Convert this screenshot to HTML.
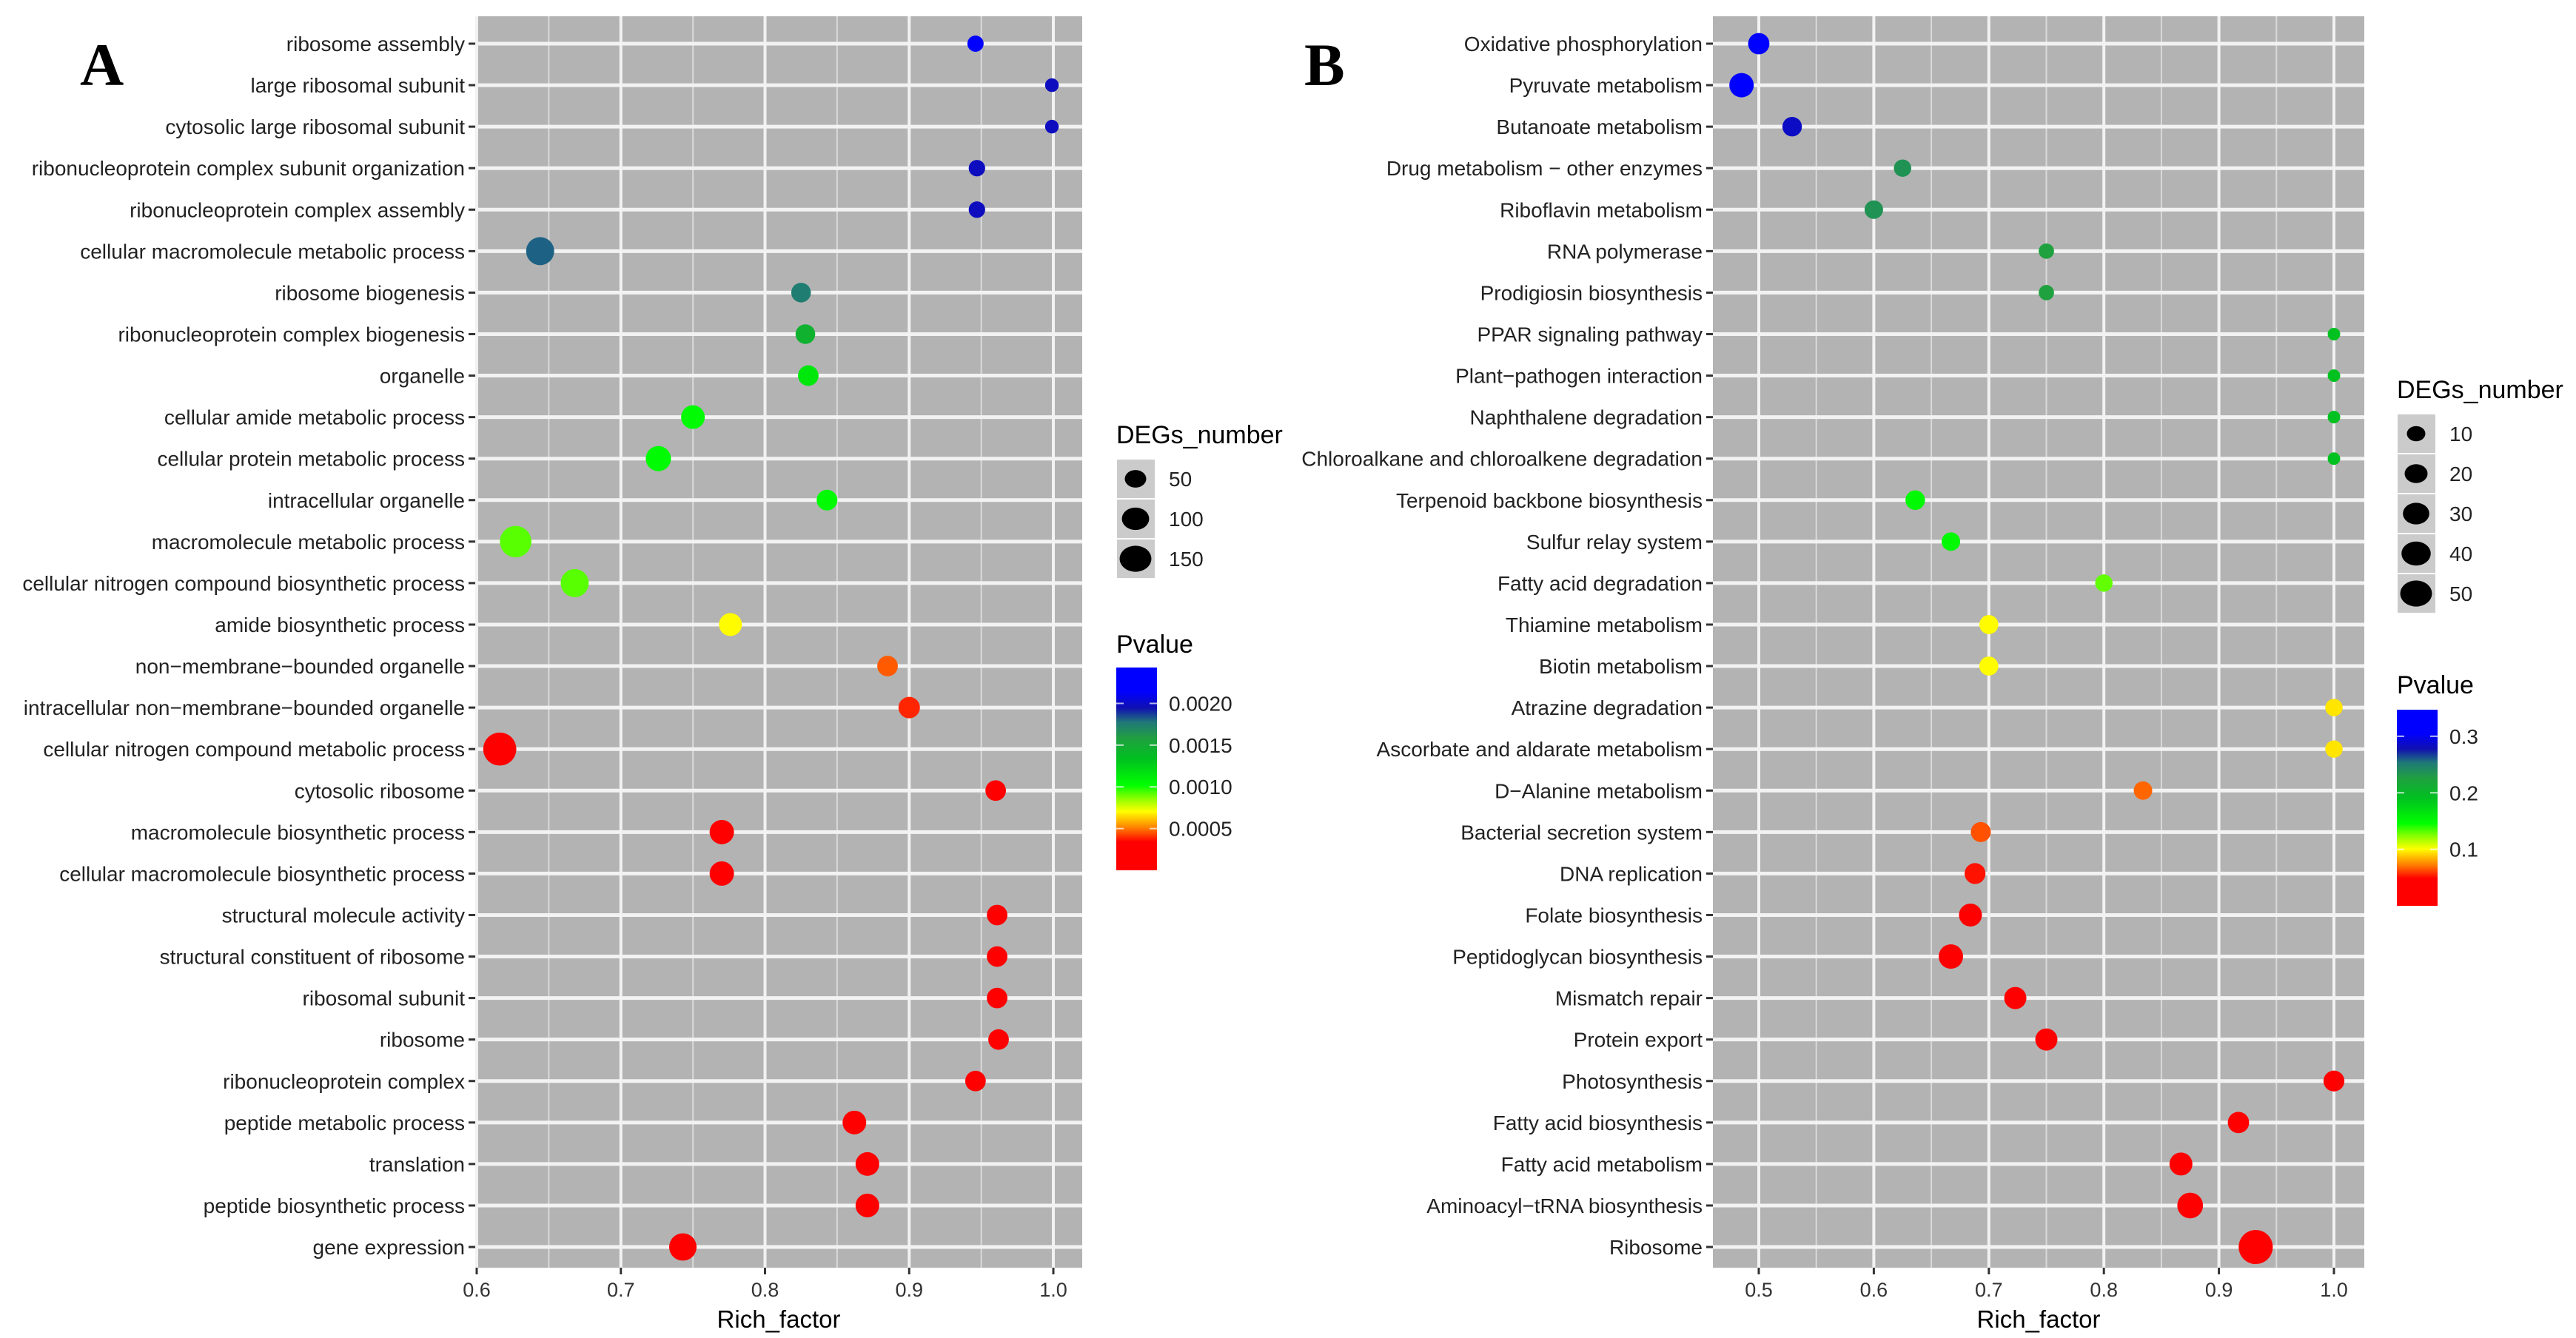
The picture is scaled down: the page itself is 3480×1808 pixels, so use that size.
<!DOCTYPE html>
<html><head><meta charset="utf-8"><title>Enrichment bubble charts</title>
<style>html,body{margin:0;padding:0;background:#fff;}svg{display:block;font-family:"Liberation Sans",Arial,sans-serif;}</style></head>
<body>
<svg id="fig" width="3480" height="1808" viewBox="0 0 3480 1808" xmlns="http://www.w3.org/2000/svg">
<defs>
<linearGradient id="pgrad" x1="0" y1="1" x2="0" y2="0">
<stop offset="0" stop-color="#ff0000"/><stop offset="0.14" stop-color="#ff0000"/><stop offset="0.21" stop-color="#ff8000"/><stop offset="0.29" stop-color="#ffff00"/><stop offset="0.36" stop-color="#80ff00"/><stop offset="0.42" stop-color="#00ff00"/><stop offset="0.55" stop-color="#00c020"/><stop offset="0.65" stop-color="#20a040"/><stop offset="0.73" stop-color="#207878"/><stop offset="0.80" stop-color="#1010b0"/><stop offset="0.88" stop-color="#0000ff"/><stop offset="1" stop-color="#0000ff"/>
</linearGradient>
</defs>
<text x="108" y="115" font-family="Liberation Serif, serif" font-weight="bold" font-size="82">A</text>
<text x="1762" y="115" font-family="Liberation Serif, serif" font-weight="bold" font-size="82">B</text>
</svg>
<script>
// ---------- Panel A data ----------
const catA = ["ribosome assembly","large ribosomal subunit","cytosolic large ribosomal subunit","ribonucleoprotein complex subunit organization","ribonucleoprotein complex assembly","cellular macromolecule metabolic process","ribosome biogenesis","ribonucleoprotein complex biogenesis","organelle","cellular amide metabolic process","cellular protein metabolic process","intracellular organelle","macromolecule metabolic process","cellular nitrogen compound biosynthetic process","amide biosynthetic process","non\u2212membrane\u2212bounded organelle","intracellular non\u2212membrane\u2212bounded organelle","cellular nitrogen compound metabolic process","cytosolic ribosome","macromolecule biosynthetic process","cellular macromolecule biosynthetic process","structural molecule activity","structural constituent of ribosome","ribosomal subunit","ribosome","ribonucleoprotein complex","peptide metabolic process","translation","peptide biosynthetic process","gene expression"];
const richA = [0.946,0.999,0.999,0.947,0.947,0.644,0.825,0.828,0.830,0.750,0.726,0.843,0.627,0.668,0.776,0.885,0.900,0.616,0.960,0.770,0.770,0.961,0.961,0.961,0.962,0.946,0.862,0.871,0.871,0.743];
const degA = [20,10,10,21,21,108,38,38,44,67,80,45,146,108,61,44,50,166,44,73,73,44,44,44,44,44,67,67,67,101];
const pA = [0.00223,0.00198,0.00198,0.00198,0.00198,0.00181,0.00175,0.00145,0.00114,0.00104,0.00104,0.00104,0.00092,0.00092,0.0007,0.00046,0.00039,0.0001,0.0001,0.0001,0.0001,0.0001,0.0001,0.0001,0.0001,0.0001,0.0001,0.0001,0.0001,0.0001];
const xTicksA = [0.6,0.7,0.8,0.9,1.0];
const xTickLabelsA = ["0.6","0.7","0.8","0.9","1.0"];
const sizeLegA = [50,100,150];
const pTicksA = [0.0005,0.0010,0.0015,0.0020];
const pTickLabelsA = ["0.0005","0.0010","0.0015","0.0020"];
// ---------- Panel B data ----------
const catB = ["Oxidative phosphorylation","Pyruvate metabolism","Butanoate metabolism","Drug metabolism \u2212 other enzymes","Riboflavin metabolism","RNA polymerase","Prodigiosin biosynthesis","PPAR signaling pathway","Plant\u2212pathogen interaction","Naphthalene degradation","Chloroalkane and chloroalkene degradation","Terpenoid backbone biosynthesis","Sulfur relay system","Fatty acid degradation","Thiamine metabolism","Biotin metabolism","Atrazine degradation","Ascorbate and aldarate metabolism","D\u2212Alanine metabolism","Bacterial secretion system","DNA replication","Folate biosynthesis","Peptidoglycan biosynthesis","Mismatch repair","Protein export","Photosynthesis","Fatty acid biosynthesis","Fatty acid metabolism","Aminoacyl\u2212tRNA biosynthesis","Ribosome"];
const richB = [0.500,0.485,0.529,0.625,0.600,0.750,0.750,1.0,1.0,1.0,1.0,0.636,0.667,0.800,0.700,0.700,1.0,1.0,0.834,0.693,0.688,0.684,0.667,0.723,0.750,1.0,0.917,0.867,0.875,0.932];
const degB = [16,24,12,8,10,5,5,2,2,2,2,12,10,8,11,11,8,8,10,13,15,20,24,18,18,15,16,20,28,60];
const pB = [0.34,0.34,0.285,0.235,0.235,0.225,0.225,0.19,0.19,0.19,0.19,0.15,0.15,0.13,0.10,0.10,0.095,0.095,0.068,0.064,0.052,0.02,0.02,0.02,0.02,0.02,0.02,0.02,0.02,0.02];
const xTicksB = [0.5,0.6,0.7,0.8,0.9,1.0];
const xTickLabelsB = ["0.5","0.6","0.7","0.8","0.9","1.0"];
const sizeLegB = [10,20,30,40,50];
const pTicksB = [0.1,0.2,0.3];
const pTickLabelsB = ["0.1","0.2","0.3"];

const NS = "http://www.w3.org/2000/svg";
const svg = document.getElementById('fig');
const stops = [[0,[255,0,0]],[0.14,[255,0,0]],[0.21,[255,128,0]],[0.29,[255,255,0]],[0.36,[128,255,0]],[0.42,[0,255,0]],[0.55,[0,192,32]],[0.65,[32,160,64]],[0.73,[32,120,120]],[0.80,[16,16,176]],[0.88,[0,0,255]],[1,[0,0,255]]];
function cmap(t){
  t=Math.max(0,Math.min(1,t));
  for(let i=1;i<stops.length;i++){
    if(t<=stops[i][0]){const a=stops[i-1],b=stops[i];const f=(t-a[0])/((b[0]-a[0])||1);
      const c=a[1].map((v,k)=>Math.round(v+(b[1][k]-v)*f));return `rgb(${c[0]},${c[1]},${c[2]})`;}
  }
  return 'rgb(0,0,255)';
}
function mk(tag,attrs,parent){const e=document.createElementNS(NS,tag);for(const k in attrs)e.setAttribute(k,attrs[k]);(parent||svg).appendChild(e);return e;}

function drawPanel(o){
  const g=mk('g',{});
  
  
  const top=22,bottom=1713,row0=59,step=56.07;
  const xs=v=>o.x0+(v-o.v0)*o.pxPer;
  const ys=i=>row0+i*step;
  const bg=mk('rect',{x:o.left,y:top,width:o.right-o.left,height:bottom-top,fill:'#b3b3b3'},g);
  
  
  for(let i=0;i<=o.ticks.length;i++){
    const m=(i<o.ticks.length?o.ticks[i]-0.05:o.ticks[o.ticks.length-1]+0.05), xm=xs(m);
    if(xm>o.left&&xm<o.right){const l=mk('line',{x1:xm,x2:xm,y1:top,y2:bottom,stroke:'#d9d9d9','stroke-width':2},g);
      
      }
  }
  o.ticks.forEach((v,i)=>{
    const x=xs(v);
    const l=mk('line',{x1:x,x2:x,y1:top,y2:bottom,stroke:'#f2f2f2','stroke-width':4},g);
    
    
    const tk=mk('line',{x1:x,x2:x,y1:bottom,y2:bottom+9,stroke:'#333','stroke-width':3},g);
    
    
    const t=mk('text',{x:x,y:1752,'text-anchor':'middle','font-size':27,fill:'#333'},g);
    t.textContent=o.tickLabels[i];
    
    
  });
  o.cats.forEach((c,i)=>{
    const y=ys(i);
    const l=mk('line',{x1:o.left,x2:o.right,y1:y,y2:y,stroke:'#f2f2f2','stroke-width':5},g);
    
    
    const tk=mk('line',{x1:o.left-9,x2:o.left,y1:y,y2:y,stroke:'#333','stroke-width':3},g);
    
    
    const t=mk('text',{x:o.left-14,y:y+10,'text-anchor':'end','font-size':28,fill:'#222'},g);
    t.textContent=c;
    
    
  });
  o.cats.forEach((c,i)=>{
    const d=o.sz(o.deg[i]);
    const p=mk('circle',{cx:xs(o.rich[i]),cy:ys(i),r:d/2,fill:cmap(o.p[i]/o.pmax)},g);
    
    
  });
  const xt=mk('text',{x:(o.left+o.right)/2,y:1794,'text-anchor':'middle','font-size':33,fill:'#000'},g);
  xt.textContent='Rich_factor';
  
  
  const lg=mk('g',{},g);
  
  
  const st=mk('text',{x:o.legX,y:o.sizeTitleY+12,'font-size':34,fill:'#000'},lg);
  st.textContent='DEGs_number';
  
  
  o.sizeLeg.forEach((v,i)=>{
    const y=o.keyTop+i*o.keyH;
    const kb=mk('rect',{x:o.legX+1,y:y+1,width:51,height:o.keyH-2,fill:'#cbcbcb'},lg);
    
    
    const d=o.sz(v);
    const kc=mk('ellipse',{cx:o.legX+26,cy:y+o.keyH/2,rx:d/2,ry:d/2*0.82,fill:'#000'},lg);
    
    
    const kt=mk('text',{x:o.legX+71,y:y+o.keyH/2+10,'font-size':28,fill:'#222'},lg);
    kt.textContent=String(v);
    
    
  });
  const cg=mk('g',{},g);
  
  
  const ct=mk('text',{x:o.legX,y:o.pTitleY+12,'font-size':34,fill:'#000'},cg);
  ct.textContent='Pvalue';
  
  
  const bar=mk('rect',{x:o.legX,y:o.barTop,width:55,height:o.barBot-o.barTop,fill:'url(#pgrad)'},cg);
  
  
  o.pTicks.forEach((v,i)=>{
    const y=o.barBot-(v/o.pmax)*(o.barBot-o.barTop);
    mk('line',{x1:o.legX,x2:o.legX+10,y1:y,y2:y,stroke:'#fff','stroke-width':2,opacity:0.7},cg);
    mk('line',{x1:o.legX+45,x2:o.legX+55,y1:y,y2:y,stroke:'#fff','stroke-width':2,opacity:0.7},cg);
    const tl=mk('text',{x:o.legX+71,y:y+10,'font-size':28,fill:'#222'},cg);
    tl.textContent=o.pTickLabels[i];
    
    
  });
}

drawPanel({id:'panel-a',cats:catA,rich:richA,deg:degA,p:pA,pmax:0.00243,
  left:642,right:1462,x0:644,v0:0.6,pxPer:1947.5,ticks:xTicksA,tickLabels:xTickLabelsA,
  sz:n=>2.7*Math.sqrt(n)+9.9,sizeLeg:sizeLegA,legX:1508,sizeTitleY:587,keyTop:620,keyH:54,
  pTitleY:870,barTop:902,barBot:1176,pTicks:pTicksA,pTickLabels:pTickLabelsA});
drawPanel({id:'panel-b',cats:catB,rich:richB,deg:degB,p:pB,pmax:0.347,
  left:2314,right:3194,x0:2376,v0:0.5,pxPer:1554,ticks:xTicksB,tickLabels:xTickLabelsB,
  sz:n=>4.6*Math.sqrt(n)+10.45,sizeLeg:sizeLegB,legX:3238,sizeTitleY:526,keyTop:559,keyH:54,
  pTitleY:925,barTop:959,barBot:1224,pTicks:pTicksB,pTickLabels:pTickLabelsB});
</script>
</body></html>
